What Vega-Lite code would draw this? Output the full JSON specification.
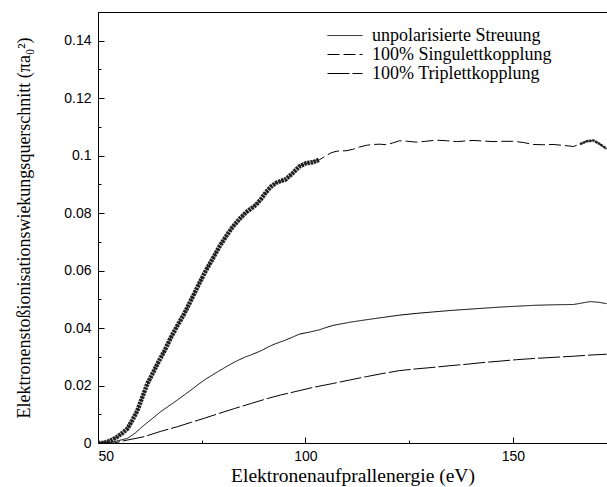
{
  "$schema": "https://vega.github.io/schema/vega-lite/v6.json",
  "width": 509,
  "height": 431,
  "autosize": {"type": "none"},
  "padding": {"left": 98, "top": 12, "right": 0, "bottom": 44},
  "background": "white",
  "config": {
    "view": {"stroke": "black", "strokeWidth": 1},
    "font": "Liberation Sans",
    "axis": {
      "domainColor": "black", "tickColor": "black", "labelColor": "black", "titleColor": "black",
      "labelFont": "Liberation Sans", "labelFontSize": 14, "titleFont": "Liberation Serif",
      "titleFontWeight": "normal", "titleFontSize": 18, "grid": false, "tickWidth": 1, "domainWidth": 1
    }
  },
  "datasets": {
    "kurven": [
      {"Kurve": "100% Singulettkopplung", "E": 50, "v": 0},
      {"Kurve": "100% Singulettkopplung", "E": 51.4, "v": 0},
      {"Kurve": "100% Singulettkopplung", "E": 53, "v": 0.0008},
      {"Kurve": "100% Singulettkopplung", "E": 54.7, "v": 0.0022},
      {"Kurve": "100% Singulettkopplung", "E": 56, "v": 0.0036},
      {"Kurve": "100% Singulettkopplung", "E": 57.1, "v": 0.005},
      {"Kurve": "100% Singulettkopplung", "E": 58.3, "v": 0.008},
      {"Kurve": "100% Singulettkopplung", "E": 59.5, "v": 0.0113},
      {"Kurve": "100% Singulettkopplung", "E": 60.7, "v": 0.016},
      {"Kurve": "100% Singulettkopplung", "E": 61.9, "v": 0.0206},
      {"Kurve": "100% Singulettkopplung", "E": 63.1, "v": 0.024},
      {"Kurve": "100% Singulettkopplung", "E": 64.3, "v": 0.0275},
      {"Kurve": "100% Singulettkopplung", "E": 66, "v": 0.032},
      {"Kurve": "100% Singulettkopplung", "E": 67.6, "v": 0.0368},
      {"Kurve": "100% Singulettkopplung", "E": 69.2, "v": 0.041},
      {"Kurve": "100% Singulettkopplung", "E": 70.8, "v": 0.045},
      {"Kurve": "100% Singulettkopplung", "E": 72.8, "v": 0.0508},
      {"Kurve": "100% Singulettkopplung", "E": 74.4, "v": 0.0555},
      {"Kurve": "100% Singulettkopplung", "E": 76.0, "v": 0.06},
      {"Kurve": "100% Singulettkopplung", "E": 77.6, "v": 0.064},
      {"Kurve": "100% Singulettkopplung", "E": 79.2, "v": 0.0682},
      {"Kurve": "100% Singulettkopplung", "E": 80.8, "v": 0.0718},
      {"Kurve": "100% Singulettkopplung", "E": 82.4, "v": 0.0751},
      {"Kurve": "100% Singulettkopplung", "E": 84, "v": 0.0778},
      {"Kurve": "100% Singulettkopplung", "E": 85.7, "v": 0.0803},
      {"Kurve": "100% Singulettkopplung", "E": 87, "v": 0.0817},
      {"Kurve": "100% Singulettkopplung", "E": 88.1, "v": 0.0829},
      {"Kurve": "100% Singulettkopplung", "E": 89.3, "v": 0.0849},
      {"Kurve": "100% Singulettkopplung", "E": 90.5, "v": 0.0873},
      {"Kurve": "100% Singulettkopplung", "E": 91.7, "v": 0.0892},
      {"Kurve": "100% Singulettkopplung", "E": 92.9, "v": 0.0905},
      {"Kurve": "100% Singulettkopplung", "E": 94.1, "v": 0.0912},
      {"Kurve": "100% Singulettkopplung", "E": 95.3, "v": 0.0918},
      {"Kurve": "100% Singulettkopplung", "E": 97, "v": 0.094},
      {"Kurve": "100% Singulettkopplung", "E": 98.6, "v": 0.0963},
      {"Kurve": "100% Singulettkopplung", "E": 100.2, "v": 0.0974},
      {"Kurve": "100% Singulettkopplung", "E": 101.8, "v": 0.0977},
      {"Kurve": "100% Singulettkopplung", "E": 103.4, "v": 0.0986},
      {"Kurve": "100% Singulettkopplung", "E": 105.0, "v": 0.1},
      {"Kurve": "100% Singulettkopplung", "E": 106.2, "v": 0.101},
      {"Kurve": "100% Singulettkopplung", "E": 107.4, "v": 0.1015},
      {"Kurve": "100% Singulettkopplung", "E": 108.6, "v": 0.1017},
      {"Kurve": "100% Singulettkopplung", "E": 109.8, "v": 0.1017},
      {"Kurve": "100% Singulettkopplung", "E": 111.4, "v": 0.1022},
      {"Kurve": "100% Singulettkopplung", "E": 113.0, "v": 0.103},
      {"Kurve": "100% Singulettkopplung", "E": 114.7, "v": 0.1036},
      {"Kurve": "100% Singulettkopplung", "E": 116.3, "v": 0.1039},
      {"Kurve": "100% Singulettkopplung", "E": 118, "v": 0.104},
      {"Kurve": "100% Singulettkopplung", "E": 119.5, "v": 0.1038},
      {"Kurve": "100% Singulettkopplung", "E": 121, "v": 0.1044},
      {"Kurve": "100% Singulettkopplung", "E": 122.7, "v": 0.1052},
      {"Kurve": "100% Singulettkopplung", "E": 124.7, "v": 0.105},
      {"Kurve": "100% Singulettkopplung", "E": 126.7, "v": 0.1047},
      {"Kurve": "100% Singulettkopplung", "E": 129, "v": 0.105},
      {"Kurve": "100% Singulettkopplung", "E": 131.5, "v": 0.1054},
      {"Kurve": "100% Singulettkopplung", "E": 134, "v": 0.1052},
      {"Kurve": "100% Singulettkopplung", "E": 136.4, "v": 0.1049},
      {"Kurve": "100% Singulettkopplung", "E": 138.4, "v": 0.1051},
      {"Kurve": "100% Singulettkopplung", "E": 140.4, "v": 0.1053},
      {"Kurve": "100% Singulettkopplung", "E": 142.8, "v": 0.1051},
      {"Kurve": "100% Singulettkopplung", "E": 145.2, "v": 0.1049},
      {"Kurve": "100% Singulettkopplung", "E": 147.6, "v": 0.105},
      {"Kurve": "100% Singulettkopplung", "E": 150.0, "v": 0.105},
      {"Kurve": "100% Singulettkopplung", "E": 152.5, "v": 0.1046},
      {"Kurve": "100% Singulettkopplung", "E": 154.9, "v": 0.1039},
      {"Kurve": "100% Singulettkopplung", "E": 157.3, "v": 0.1038},
      {"Kurve": "100% Singulettkopplung", "E": 159.7, "v": 0.1039},
      {"Kurve": "100% Singulettkopplung", "E": 162, "v": 0.1036},
      {"Kurve": "100% Singulettkopplung", "E": 164.6, "v": 0.1032},
      {"Kurve": "100% Singulettkopplung", "E": 166.2, "v": 0.104},
      {"Kurve": "100% Singulettkopplung", "E": 167.8, "v": 0.105},
      {"Kurve": "100% Singulettkopplung", "E": 169.4, "v": 0.1053},
      {"Kurve": "100% Singulettkopplung", "E": 171, "v": 0.104},
      {"Kurve": "100% Singulettkopplung", "E": 172.6, "v": 0.1024},
      {"Kurve": "100% Triplettkopplung", "E": 50, "v": 0},
      {"Kurve": "100% Triplettkopplung", "E": 53.9, "v": 0},
      {"Kurve": "100% Triplettkopplung", "E": 57, "v": 0.001},
      {"Kurve": "100% Triplettkopplung", "E": 61.1, "v": 0.0022},
      {"Kurve": "100% Triplettkopplung", "E": 65, "v": 0.004},
      {"Kurve": "100% Triplettkopplung", "E": 69.2, "v": 0.0057},
      {"Kurve": "100% Triplettkopplung", "E": 72.5, "v": 0.0072},
      {"Kurve": "100% Triplettkopplung", "E": 75.6, "v": 0.0086},
      {"Kurve": "100% Triplettkopplung", "E": 79, "v": 0.0102},
      {"Kurve": "100% Triplettkopplung", "E": 82.9, "v": 0.012},
      {"Kurve": "100% Triplettkopplung", "E": 87, "v": 0.0138},
      {"Kurve": "100% Triplettkopplung", "E": 90.9, "v": 0.0155},
      {"Kurve": "100% Triplettkopplung", "E": 94, "v": 0.0167},
      {"Kurve": "100% Triplettkopplung", "E": 97.3, "v": 0.0178},
      {"Kurve": "100% Triplettkopplung", "E": 102, "v": 0.0194},
      {"Kurve": "100% Triplettkopplung", "E": 106.6, "v": 0.0207},
      {"Kurve": "100% Triplettkopplung", "E": 110.6, "v": 0.0219},
      {"Kurve": "100% Triplettkopplung", "E": 114.7, "v": 0.0231},
      {"Kurve": "100% Triplettkopplung", "E": 118.7, "v": 0.0242},
      {"Kurve": "100% Triplettkopplung", "E": 122.7, "v": 0.0252},
      {"Kurve": "100% Triplettkopplung", "E": 126.7, "v": 0.0258},
      {"Kurve": "100% Triplettkopplung", "E": 130.7, "v": 0.0263},
      {"Kurve": "100% Triplettkopplung", "E": 134.8, "v": 0.0269},
      {"Kurve": "100% Triplettkopplung", "E": 138.8, "v": 0.0274},
      {"Kurve": "100% Triplettkopplung", "E": 142.8, "v": 0.028},
      {"Kurve": "100% Triplettkopplung", "E": 146.9, "v": 0.0285},
      {"Kurve": "100% Triplettkopplung", "E": 150.9, "v": 0.029},
      {"Kurve": "100% Triplettkopplung", "E": 154.9, "v": 0.0294},
      {"Kurve": "100% Triplettkopplung", "E": 159.7, "v": 0.0298},
      {"Kurve": "100% Triplettkopplung", "E": 164.6, "v": 0.0302},
      {"Kurve": "100% Triplettkopplung", "E": 168.6, "v": 0.0306},
      {"Kurve": "100% Triplettkopplung", "E": 172.6, "v": 0.0309},
      {"Kurve": "unpolarisierte Streuung", "E": 50, "v": 0},
      {"Kurve": "unpolarisierte Streuung", "E": 51.4, "v": 0},
      {"Kurve": "unpolarisierte Streuung", "E": 54, "v": 0.0005},
      {"Kurve": "unpolarisierte Streuung", "E": 57.1, "v": 0.0016},
      {"Kurve": "unpolarisierte Streuung", "E": 59, "v": 0.0035},
      {"Kurve": "unpolarisierte Streuung", "E": 61.1, "v": 0.0062},
      {"Kurve": "unpolarisierte Streuung", "E": 63.1, "v": 0.0085},
      {"Kurve": "unpolarisierte Streuung", "E": 65.1, "v": 0.0109},
      {"Kurve": "unpolarisierte Streuung", "E": 68, "v": 0.0138},
      {"Kurve": "unpolarisierte Streuung", "E": 70.8, "v": 0.0167},
      {"Kurve": "unpolarisierte Streuung", "E": 73.2, "v": 0.0193},
      {"Kurve": "unpolarisierte Streuung", "E": 75.6, "v": 0.0219},
      {"Kurve": "unpolarisierte Streuung", "E": 78.4, "v": 0.0244},
      {"Kurve": "unpolarisierte Streuung", "E": 81.2, "v": 0.0268},
      {"Kurve": "unpolarisierte Streuung", "E": 83.2, "v": 0.0284},
      {"Kurve": "unpolarisierte Streuung", "E": 85.3, "v": 0.0298},
      {"Kurve": "unpolarisierte Streuung", "E": 87.3, "v": 0.0309},
      {"Kurve": "unpolarisierte Streuung", "E": 89.3, "v": 0.0321},
      {"Kurve": "unpolarisierte Streuung", "E": 91, "v": 0.0334},
      {"Kurve": "unpolarisierte Streuung", "E": 92.5, "v": 0.0344},
      {"Kurve": "unpolarisierte Streuung", "E": 95, "v": 0.0357},
      {"Kurve": "unpolarisierte Streuung", "E": 97.3, "v": 0.0371},
      {"Kurve": "unpolarisierte Streuung", "E": 98.6, "v": 0.0379},
      {"Kurve": "unpolarisierte Streuung", "E": 101, "v": 0.0386},
      {"Kurve": "unpolarisierte Streuung", "E": 103.4, "v": 0.0394},
      {"Kurve": "unpolarisierte Streuung", "E": 105, "v": 0.0402},
      {"Kurve": "unpolarisierte Streuung", "E": 106.6, "v": 0.0409},
      {"Kurve": "unpolarisierte Streuung", "E": 110.6, "v": 0.042},
      {"Kurve": "unpolarisierte Streuung", "E": 114.7, "v": 0.0429},
      {"Kurve": "unpolarisierte Streuung", "E": 118.7, "v": 0.0437},
      {"Kurve": "unpolarisierte Streuung", "E": 122.7, "v": 0.0445},
      {"Kurve": "unpolarisierte Streuung", "E": 126.7, "v": 0.0451},
      {"Kurve": "unpolarisierte Streuung", "E": 130.7, "v": 0.0456},
      {"Kurve": "unpolarisierte Streuung", "E": 134.8, "v": 0.0461},
      {"Kurve": "unpolarisierte Streuung", "E": 138.8, "v": 0.0465},
      {"Kurve": "unpolarisierte Streuung", "E": 142.8, "v": 0.0469},
      {"Kurve": "unpolarisierte Streuung", "E": 146.9, "v": 0.0473},
      {"Kurve": "unpolarisierte Streuung", "E": 150.9, "v": 0.0476},
      {"Kurve": "unpolarisierte Streuung", "E": 154.9, "v": 0.0479},
      {"Kurve": "unpolarisierte Streuung", "E": 159.7, "v": 0.0481},
      {"Kurve": "unpolarisierte Streuung", "E": 164.6, "v": 0.0482},
      {"Kurve": "unpolarisierte Streuung", "E": 166.6, "v": 0.0487},
      {"Kurve": "unpolarisierte Streuung", "E": 168.6, "v": 0.0492},
      {"Kurve": "unpolarisierte Streuung", "E": 170.6, "v": 0.049},
      {"Kurve": "unpolarisierte Streuung", "E": 172.6, "v": 0.0485}
    ]
  },
  "data": {"name": "kurven"},
  "resolve": {"axis": {"x": "independent", "y": "independent"}},
  "layer": [
    {
      "mark": {"type": "line", "color": "black", "strokeWidth": 1, "clip": true},
      "encoding": {
        "x": {
          "field": "E", "type": "quantitative",
          "scale": {"domain": [50, 172.7], "nice": false, "zero": false},
          "axis": {"orient": "bottom", "title": "Elektronenaufprallenergie (eV)", "titleFontSize": 19.5, "values": [50, 100, 150], "format": "d", "tickSize": -6, "labelPadding": 12, "titlePadding": 3}
        },
        "y": {
          "field": "v", "type": "quantitative",
          "scale": {"domain": [0, 0.15], "nice": false, "zero": true},
          "axis": {"orient": "left", "title": "Elektronenstoßionisationswiekungsquerschnitt (πa₀²)", "values": [0, 0.02, 0.04, 0.06, 0.08, 0.1, 0.12, 0.14], "format": "~f", "tickSize": -6, "labelPadding": 13, "titlePadding": 30}
        },
        "strokeDash": {
          "field": "Kurve", "type": "nominal",
          "scale": {"domain": ["unpolarisierte Streuung", "100% Singulettkopplung", "100% Triplettkopplung"], "range": [[1, 0], [12, 4], [22, 3]]},
          "legend": {
            "title": null, "orient": "none", "legendX": 229, "legendY": 14,
            "symbolType": "stroke", "symbolSize": 1225, "symbolStrokeWidth": 1, "symbolStrokeColor": "black",
            "labelFont": "Liberation Serif", "labelFontSize": 18, "labelColor": "black", "labelLimit": 300,
            "rowPadding": 0, "clipHeight": 19, "labelOffset": 9
          }
        }
      }
    },
    {
      "transform": [{"filter": "datum.Kurve == '100% Singulettkopplung' && datum.E <= 103.5"}],
      "mark": {"type": "line", "color": "#222222", "strokeWidth": 4.5, "strokeDash": [2.5, 0.7], "clip": true},
      "encoding": {
        "x": {"field": "E", "type": "quantitative", "axis": null},
        "y": {"field": "v", "type": "quantitative", "axis": null}
      }
    },
    {
      "transform": [{"filter": "datum.Kurve == '100% Singulettkopplung' && datum.E >= 165"}],
      "mark": {"type": "line", "color": "#222222", "strokeWidth": 2.5, "strokeDash": [2.5, 0.7], "clip": true},
      "encoding": {
        "x": {"field": "E", "type": "quantitative", "axis": null},
        "y": {"field": "v", "type": "quantitative", "axis": null}
      }
    },
    {
      "mark": {"type": "line", "opacity": 0, "clip": true},
      "encoding": {
        "x": {"field": "E", "type": "quantitative", "axis": {"orient": "bottom", "values": [75, 125], "labels": false, "title": null, "domain": false, "tickSize": -3}},
        "y": {"field": "v", "type": "quantitative", "axis": {"orient": "left", "values": [0.01, 0.03, 0.05, 0.07, 0.09, 0.11, 0.13], "labels": false, "title": null, "domain": false, "tickSize": -3}}
      }
    }
  ]
}
